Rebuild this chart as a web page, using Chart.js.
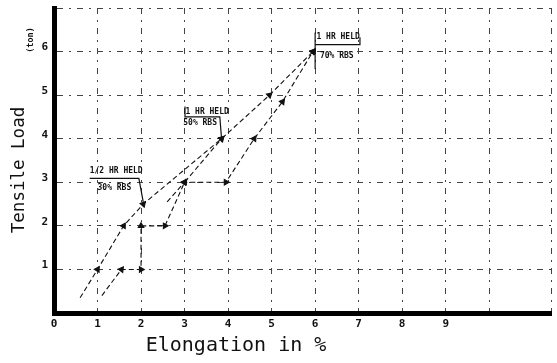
<!DOCTYPE html>
<html>
<head>
<meta charset="utf-8">
<script src="https://cdn.jsdelivr.net/npm/chart.js@4.4.0/dist/chart.umd.min.js"></script>
<style>
    html, body { margin: 0; padding: 0; background: #fff; }
    #wrap { width: 557px; height: 363px; }
</style>
</head>
<body>
<div id="wrap"><canvas id="tensileChart"></canvas></div>
<script>
// values (elongation %, load in ton)
const xTickLabels = ['0', '1', '2', '3', '4', '5', '6', '7', '8', '9'];
const yTickLabels = ['', '1', '2', '3', '4', '5', '6', ''];

const pathAElong = [0.6, 1.0, 1.6, 2.05, 3.85, 4.95, 5.95];
const pathALoad  = [0.35, 1.0, 2.0, 2.5, 4.0, 5.0, 6.0];

const pathBElong = [1.1, 1.55, 2.0, 2.0, 2.55, 3.0, 3.85];
const pathBLoad  = [0.4, 1.0, 1.0, 2.0, 2.0, 3.0, 4.0];

const pathCElong = [2.6, 3.0, 3.95, 4.6, 5.25, 5.95];
const pathCLoad  = [2.55, 3.0, 3.0, 4.0, 4.85, 6.0];

// hold notes: text lines at (elongation, load)
const notes = [
    { text: '1/2 HR HELD', x: 0.82, y: 3.26 },
    { text: '30% RBS',     x: 1.0,  y: 2.87 },
    { text: '1 HR HELD',   x: 3.02, y: 4.62 },
    { text: '50% RBS',     x: 2.97, y: 4.37 },
    { text: '1 HR HELD',   x: 6.03, y: 6.33 },
    { text: '70% RBS',     x: 6.11, y: 5.89 }
];
const leaders = [
    [[0.82, 3.09], [1.95, 3.09], [2.05, 2.55]],
    [[3.01, 4.74], [3.01, 4.5], [3.81, 4.5], [3.85, 4.0]],
    [[6.0, 6.44], [6.0, 5.6]],
    [[6.0, 6.16], [7.03, 6.16], [7.03, 6.33]]
];

const toPoints = (xs, ys) => xs.map((x, i) => ({ x: x, y: ys[i] }));

function arrowRotation(ctx) {
    const i = ctx.dataIndex;
    const d = ctx.dataset.data;
    if (!i) return 0;
    const xs = ctx.chart.scales.x, ys = ctx.chart.scales.y;
    const dx = xs.getPixelForValue(d[i].x) - xs.getPixelForValue(d[i - 1].x);
    const dy = ys.getPixelForValue(d[i].y) - ys.getPixelForValue(d[i - 1].y);
    return Math.atan2(dx, -dy) * 180 / Math.PI;
}

function pathDataset(label, xs, ys) {
    return {
        label: label,
        data: toPoints(xs, ys),
        showLine: true,
        borderColor: '#111',
        backgroundColor: '#111',
        borderWidth: 1.1,
        borderDash: [5, 3],
        pointStyle: 'triangle',
        pointRadius: xs.map((v, i) => i === 0 ? 0 : 3.2),
        pointRotation: arrowRotation
    };
}

const mono = '"DejaVu Sans Mono", "Liberation Mono", monospace';

const notesPlugin = {
    id: 'notes',
    afterDatasetsDraw(chart) {
        const { ctx, scales: { x, y } } = chart;
        ctx.save();
        ctx.strokeStyle = '#111';
        ctx.lineWidth = 1.2;
        leaders.forEach(line => {
            ctx.beginPath();
            line.forEach((p, i) => {
                const px = x.getPixelForValue(p[0]), py = y.getPixelForValue(p[1]);
                if (i === 0) ctx.moveTo(px, py); else ctx.lineTo(px, py);
            });
            ctx.stroke();
        });
        ctx.fillStyle = '#111';
        ctx.font = 'bold 8px ' + mono;
        ctx.textBaseline = 'middle';
        ctx.textAlign = 'left';
        notes.forEach(n => {
            ctx.fillText(n.text, x.getPixelForValue(n.x), y.getPixelForValue(n.y));
        });
        ctx.restore();
    },
    afterDraw(chart) {
        const { ctx } = chart;
        ctx.save();
        ctx.fillStyle = '#111';
        ctx.textAlign = 'center';
        ctx.textBaseline = 'middle';
        ctx.font = '20px ' + mono;
        ctx.fillText('Elongation in %', 236, 346);
        ctx.translate(19, 170);
        ctx.rotate(-Math.PI / 2);
        ctx.font = '17.5px ' + mono;
        ctx.fillText('Tensile Load', 0, 0);
        ctx.restore();
        ctx.save();
        ctx.fillStyle = '#111';
        ctx.translate(31, 40);
        ctx.rotate(-Math.PI / 2);
        ctx.textAlign = 'center';
        ctx.textBaseline = 'middle';
        ctx.font = 'bold 8.5px ' + mono;
        ctx.fillText('(ton)', 0, 0);
        ctx.restore();
    }
};

new Chart(document.getElementById('tensileChart'), {
    type: 'scatter',
    data: {
        datasets: [
            pathDataset('Path A', pathAElong, pathALoad),
            pathDataset('Path B', pathBElong, pathBLoad),
            pathDataset('Path C', pathCElong, pathCLoad)
        ]
    },
    options: {
        responsive: true,
        maintainAspectRatio: false,
        animation: false,
        layout: { padding: { top: 8, right: 2, left: 0, bottom: 0 } },
        plugins: {
            legend: { display: false },
            tooltip: { enabled: false }
        },
        scales: {
            x: {
                type: 'linear',
                min: 0,
                max: 11.44,
                afterFit: scale => {
                    scale.height = 50;
                    scale.paddingLeft = 0;
                    scale.paddingRight = 0;
                },
                border: { display: true, width: 5, color: '#000', dash: [6, 6, 2, 6] },
                grid: { color: '#444', lineWidth: 1, drawTicks: false },
                ticks: {
                    stepSize: 1,
                    autoSkip: false,
                    maxRotation: 0,
                    padding: 5,
                    color: '#111',
                    font: { family: mono, size: 11, weight: 'bold' },
                    callback: v => xTickLabels[v] !== undefined ? xTickLabels[v] : ''
                }
            },
            y: {
                type: 'linear',
                min: 0,
                max: 7,
                afterFit: scale => {
                    scale.width = 54;
                    scale.paddingTop = 0;
                    scale.paddingBottom = 0;
                },
                border: { display: true, width: 5, color: '#000', dash: [6, 6, 2, 6] },
                grid: { color: '#444', lineWidth: 1, drawTicks: false },
                ticks: {
                    stepSize: 1,
                    padding: 6,
                    labelOffset: -4,
                    color: '#111',
                    font: { family: mono, size: 11, weight: 'bold' },
                    callback: v => yTickLabels[v] !== undefined ? yTickLabels[v] : ''
                }
            }
        }
    },
    plugins: [notesPlugin]
});
</script>
</body>
</html>
